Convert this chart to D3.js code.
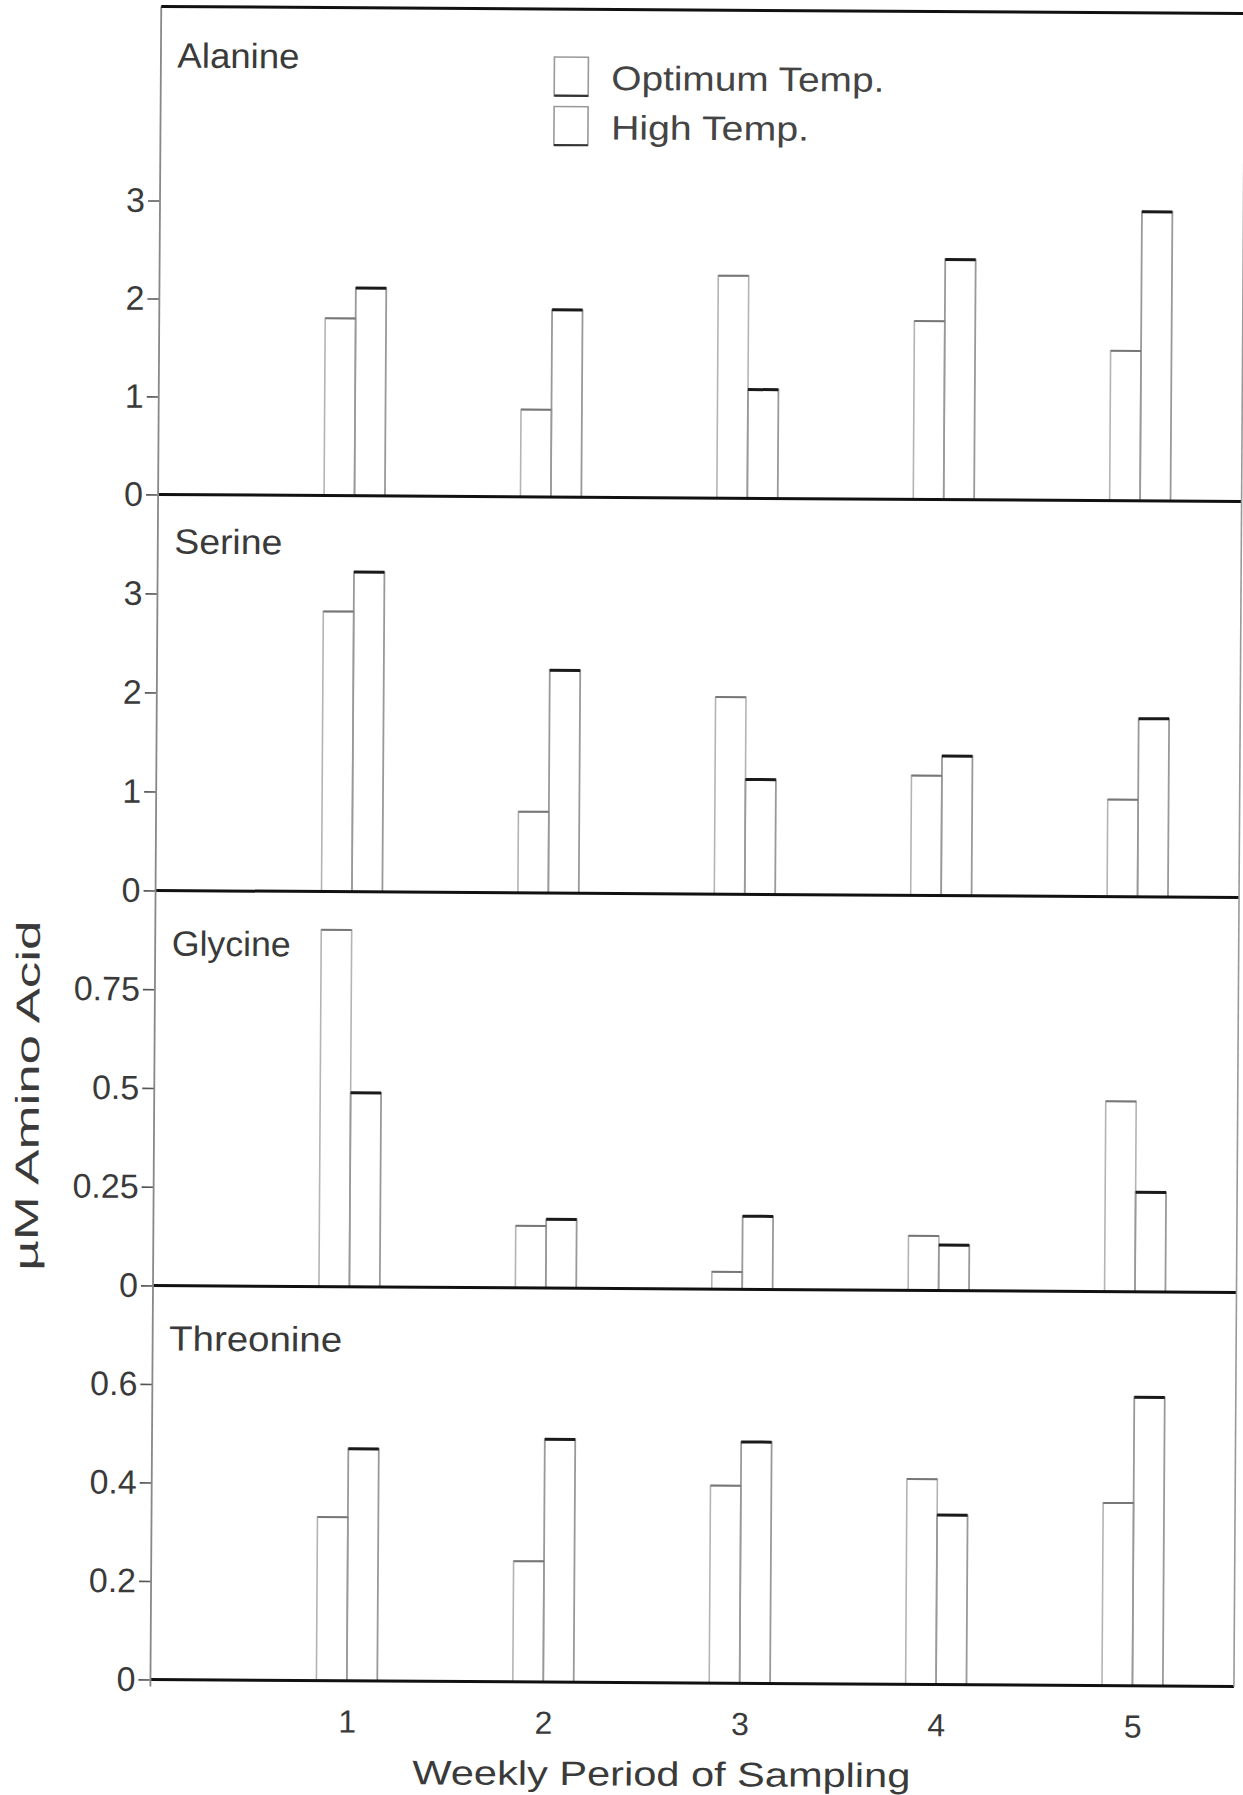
<!DOCTYPE html>
<html><head><meta charset="utf-8">
<script src="https://cdn.jsdelivr.net/npm/d3@7"></script>
<style>body{margin:0;background:#fff} svg{display:block}</style>
</head><body>
<svg id="chart" width="1243" height="1795"></svg>
<script>
// ---- data ----
const weeks = [1, 2, 3, 4, 5];
const weekLabels = ["1", "2", "3", "4", "5"];
const seriesNames = ["Optimum Temp.", "High Temp."];
const aminoAcids = ["Alanine", "Serine", "Glycine", "Threonine"];

const alanineOpt  = [1.81, 0.89, 2.27, 1.82, 1.53];
const alanineHigh = [2.12, 1.91, 1.11, 2.45, 2.95];
const serineOpt   = [2.83, 0.82, 1.99, 1.21, 0.98];
const serineHigh  = [3.23, 2.25, 1.16, 1.41, 1.80];
const glycineOpt  = [0.903, 0.157, 0.044, 0.138, 0.482];
const glycineHigh = [0.491, 0.174, 0.185, 0.115, 0.252];
const threonineOpt  = [0.332, 0.245, 0.401, 0.417, 0.371];
const threonineHigh = [0.471, 0.493, 0.490, 0.344, 0.586];

const alanineTicks = [0, 1, 2, 3];
const alanineTickLabels = ["0", "1", "2", "3"];
const serineTicks = [0, 1, 2, 3];
const serineTickLabels = ["0", "1", "2", "3"];
const glycineTicks = [0, 0.25, 0.5, 0.75];
const glycineTickLabels = ["0", "0.25", "0.5", "0.75"];
const threonineTicks = [0, 0.2, 0.4, 0.6];
const threonineTickLabels = ["0", "0.2", "0.4", "0.6"];

const yMaxes = [4.98, 4.0, 1.0, 0.8];
const xTitle = "Weekly  Period  of  Sampling";
const yTitle = "\u00B5M  Amino  Acid";

// ---- layout ----
const panelsData = [
  {name: aminoAcids[0], opt: alanineOpt, high: alanineHigh, ticks: alanineTicks, labels: alanineTickLabels, max: yMaxes[0], top: 10, bottom: 498, lw: 122, ly: 61},
  {name: aminoAcids[1], opt: serineOpt, high: serineHigh, ticks: serineTicks, labels: serineTickLabels, max: yMaxes[1], top: 498, bottom: 894, lw: 108, ly: 59},
  {name: aminoAcids[2], opt: glycineOpt, high: glycineHigh, ticks: glycineTicks, labels: glycineTickLabels, max: yMaxes[2], top: 894, bottom: 1289, lw: 119, ly: 65},
  {name: aminoAcids[3], opt: threonineOpt, high: threonineHigh, ticks: threonineTicks, labels: threonineTickLabels, max: yMaxes[3], top: 1289, bottom: 1683, lw: 173, ly: 65}
];
const L = 155.5, R = 1239;
const FONT = "'Liberation Sans', Arial, sans-serif";
const INK = "#3a3a3a";

const svg = d3.select("#chart");
const root = svg.append("g").attr("transform", "rotate(0.37,700,900)");

const x = d3.scaleLinear().domain([0, 5.5]).range([L, L + 5.5 * 196.4]);
const barW = x(0.155) - x(0);

panelsData.forEach((p) => {
  const y = d3.scaleLinear().domain([0, p.max]).range([p.bottom, p.top]);
  const g = root.append("g");

  const rows = weeks.map((w, i) => ({w, opt: p.opt[i], high: p.high[i]}));
  g.selectAll("rect.opt").data(rows).join("rect")
    .attr("x", d => x(d.w) - barW).attr("width", barW)
    .attr("y", d => y(d.opt)).attr("height", d => y(0) - y(d.opt))
    .attr("fill", "none").attr("stroke", "#b4b4b4").attr("stroke-width", 1.6);
  g.selectAll("rect.high").data(rows).join("rect")
    .attr("x", d => x(d.w)).attr("width", barW)
    .attr("y", d => y(d.high)).attr("height", d => y(0) - y(d.high))
    .attr("fill", "none").attr("stroke", "#999").attr("stroke-width", 1.8);
  g.selectAll("line.optTop").data(rows).join("line")
    .attr("x1", d => x(d.w) - barW).attr("x2", d => x(d.w))
    .attr("y1", d => y(d.opt)).attr("y2", d => y(d.opt))
    .attr("stroke", "#777").attr("stroke-width", 2);
  g.selectAll("line.highTop").data(rows).join("line")
    .attr("x1", d => x(d.w)).attr("x2", d => x(d.w) + barW)
    .attr("y1", d => y(d.high)).attr("y2", d => y(d.high))
    .attr("stroke", "#1a1a1a").attr("stroke-width", 3);

  const ax = g.append("g").attr("transform", `translate(${L},0)`)
    .call(d3.axisLeft(y).tickValues(p.ticks).tickFormat((d, j) => p.labels[j]).tickSize(12).tickPadding(3));
  ax.select(".domain").remove();
  ax.selectAll(".tick line").attr("stroke", "#555").attr("stroke-width", 1.6);
  ax.selectAll(".tick text").attr("font-family", FONT).attr("font-size", 34).attr("fill", INK);

  g.append("line").attr("x1", L).attr("x2", R).attr("y1", y(0)).attr("y2", y(0))
    .attr("stroke", "#111").attr("stroke-width", 3);

  g.append("text").attr("x", 172).attr("y", p.top + p.ly)
    .attr("font-family", FONT).attr("font-size", 35).attr("fill", INK)
    .attr("textLength", p.lw).attr("lengthAdjust", "spacingAndGlyphs")
    .text(p.name);
});

// frame
root.append("line").attr("x1", L).attr("x2", L).attr("y1", 10).attr("y2", 1690)
  .attr("stroke", "#888").attr("stroke-width", 1.8);
root.append("line").attr("x1", R).attr("x2", R).attr("y1", 10).attr("y2", 1683)
  .attr("stroke", "#999").attr("stroke-width", 1.6);
root.append("line").attr("x1", L).attr("x2", R).attr("y1", 10).attr("y2", 10)
  .attr("stroke", "#111").attr("stroke-width", 3);

// x axis labels
const xAx = root.append("g").attr("transform", "translate(0,1712)")
  .call(d3.axisBottom(x).tickValues(weeks).tickFormat((d, i) => weekLabels[i]).tickSize(0).tickPadding(0));
xAx.select(".domain").remove();
xAx.selectAll(".tick text").attr("font-family", FONT).attr("font-size", 32).attr("fill", INK);

// axis titles
root.append("text").attr("x", 667).attr("y", 1786).attr("text-anchor", "middle")
  .attr("font-family", FONT).attr("font-size", 34).attr("fill", INK)
  .attr("textLength", 498).attr("lengthAdjust", "spacingAndGlyphs").text(xTitle);
root.append("text").attr("transform", "translate(40,1100) rotate(-90)").attr("text-anchor", "middle")
  .attr("font-family", FONT).attr("font-size", 33).attr("fill", INK)
  .attr("textLength", 350).attr("lengthAdjust", "spacingAndGlyphs").text(yTitle);

// legend
const legY = d3.scaleBand().domain(seriesNames).range([58, 146]).paddingInner(0.22);
const leg = root.append("g");
seriesNames.forEach((s, i) => {
  leg.append("rect").attr("x", 549).attr("y", legY(s)).attr("width", 34).attr("height", legY.bandwidth())
    .attr("fill", "none").attr("stroke", "#999").attr("stroke-width", 1.6);
  leg.append("line").attr("x1", 549).attr("x2", 583).attr("y1", legY(s) + legY.bandwidth()).attr("y2", legY(s) + legY.bandwidth())
    .attr("stroke", "#333").attr("stroke-width", 2.2);
  leg.append("text").attr("x", 606).attr("y", legY(s) + legY.bandwidth() - 6)
    .attr("font-family", FONT).attr("font-size", 34).attr("fill", "#444")
    .attr("textLength", i === 0 ? 273 : 198).attr("lengthAdjust", "spacingAndGlyphs").text(s);
});
</script>
</body></html>
